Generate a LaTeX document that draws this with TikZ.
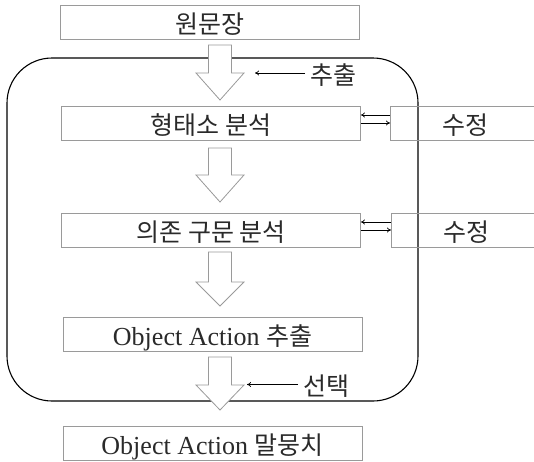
\documentclass[tikz,border=0pt]{standalone}
\usepackage{fontspec}
\setmainfont{Liberation Serif}
\newfontfamily\krfont{Noto Sans CJK KR}
\usetikzlibrary{arrows.meta,positioning,calc}

\definecolor{boxgray}{HTML}{9A9A9A}
\definecolor{inkgray}{HTML}{2A2A2A}

% hollow block arrow pointing down: center x, shaft top, head start, tip
\newcommand{\bigdown}[4]{%
  \draw[bigarrow] (#1-11.5,#2) -- (#1+11.5,#2) -- (#1+11.5,#3) -- (#1+24,#3)
    -- (#1,#4) -- (#1-24,#3) -- (#1-11.5,#3) -- cycle;}
\newcommand{\kr}[1]{{\fontsize{25}{30}\selectfont\krfont #1}}

\tikzset{
  stagebox/.style={draw=boxgray, line width=0.8pt, minimum width=299pt,
    minimum height=34pt, inner sep=0pt, text height=26pt, text depth=4pt,
    text=inkgray, font=\fontsize{26}{30}\selectfont},
  bigarrow/.style={draw=boxgray, line width=0.8pt, fill=white},
  thinarrow/.style={-{To[length=4pt,width=5pt]}, line width=0.7pt},
  sidelabel/.style={anchor=west, inner xsep=5pt, inner ysep=0pt,
    text height=26pt, text depth=4pt, text=inkgray}
}

\begin{document}
\begin{tikzpicture}[x=1pt,y=-1pt]
    \useasboundingbox (0,0) rectangle (534,461);
    % analysis frame
    \draw[line width=1.1pt, rounded corners=45pt] (7,58) rectangle (418,401);
    % stages
    \node[stagebox] (orig) at (210,22.5) {\kr{원문장}};
    \node[stagebox] (morph) at (211,123) {\kr{형태소 분석}};
    \node[stagebox] (dep) at (211,230) {\kr{의존 구문 분석}};
    \node[stagebox] (objext) at (212.5,334.5) {Object Action \kr{추출}};
    \node[stagebox] (corpus) at (212.5,443.5) {Object Action \kr{말뭉치}};
    % correction boxes
    \node[stagebox, minimum width=150pt, anchor=west] (fix1) at (390,123) {\kr{수정}\hspace{16pt}};
    \node[stagebox, minimum width=150pt, anchor=west] (fix2) at (391,230) {\kr{수정}\hspace{16pt}};
    % block arrows
    \bigdown{220}{45}{73}{100}
    \bigdown{220}{148}{175}{202}
    \bigdown{220}{252}{282}{306}
    \bigdown{220}{357}{385}{410}
    % feedback arrows
    \draw[thinarrow] ($(fix1.west)+(0,-8)$) -- ($(morph.east)+(0,-8)$);
    \draw[thinarrow] (morph.east) -- (fix1.west);
    \draw[thinarrow] ($(fix2.west)+(0,-8)$) -- ($(dep.east)+(0,-8)$);
    \draw[thinarrow] (dep.east) -- (fix2.west);
    % side labels
    \node[sidelabel] (extlbl) at (305,73) {\kr{추출}};
    \coordinate (extpt) at (255,73);
    \draw[thinarrow] (extlbl.west) -- (extpt);
    \node[sidelabel] (sellbl) at (298,384.5) {\kr{선택}};
    \coordinate (selpt) at (247,384.5);
    \draw[thinarrow] (sellbl.west) -- (selpt);
\end{tikzpicture}
\end{document}
